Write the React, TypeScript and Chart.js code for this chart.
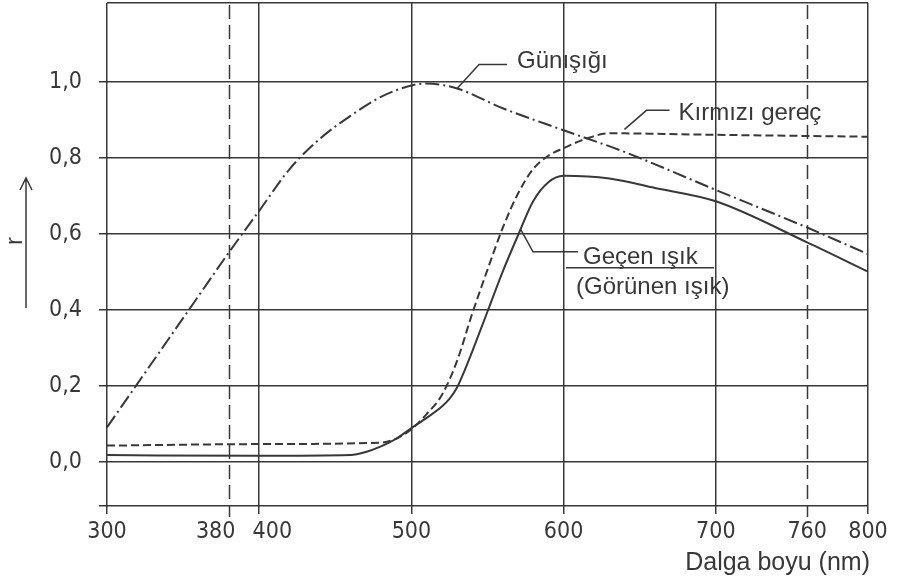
import React, { useEffect, useRef } from 'react';
import { Chart, registerables } from 'chart.js';

Chart.register(...registerables);

// ---- data ----
const sunX = [300, 320, 340, 360, 380, 400, 420, 440, 460, 480, 500, 510, 530, 560, 600, 640, 700, 760, 800];
const sunY = [0.09, 0.205, 0.32, 0.435, 0.55, 0.66, 0.77, 0.85, 0.91, 0.96, 0.99, 0.995, 0.982, 0.93, 0.872, 0.815, 0.715, 0.616, 0.546];

const redX = [300, 400, 480, 490, 500, 510, 520, 530, 540, 550, 560, 570, 580, 590, 600, 615, 630, 700, 760, 800];
const redY = [0.042, 0.046, 0.05, 0.06, 0.085, 0.125, 0.175, 0.265, 0.39, 0.505, 0.615, 0.705, 0.77, 0.805, 0.825, 0.85, 0.864, 0.86, 0.857, 0.855];

const lightX = [300, 400, 460, 470, 480, 490, 500, 510, 520, 525, 530, 535, 540, 550, 560, 570, 580, 590, 600, 630, 660, 700, 760, 800];
const lightY = [0.017, 0.015, 0.017, 0.025, 0.04, 0.06, 0.088, 0.115, 0.145, 0.165, 0.195, 0.24, 0.29, 0.395, 0.5, 0.595, 0.685, 0.735, 0.752, 0.745, 0.72, 0.685, 0.577, 0.5];

const seriesNames = ['Günışığı', 'Kırmızı gereç', 'Geçen ışık'];
const lightSubLabel = '(Görünen ışık)';

const xTicks = [300, 380, 400, 500, 600, 700, 760, 800];
const visibleLimits = [380, 760];
const yTicks = [0, 0.2, 0.4, 0.6, 0.8, 1.0];
const xMin = 300;
const xMax = 800;
const yMin = -0.117;
const yMax = 1.207;
const xTitle = 'Dalga boyu (nm)';
const yTitle = 'r';

// ---- styles ----
const INK = '#383838';
const TICK_FONT = "'Liberation Sans Narrow', 'DejaVu Sans Condensed', 'Liberation Sans', sans-serif";
const TEXT_FONT = "'Liberation Sans', Arial, sans-serif";

const callouts = [
  { lines: [seriesNames[0]], ax: 530, ay: 0.982, path: [[0, 0], [22, -24], [50, -24]], tx: 60, ty: [-20], bar: null as null | number[] },
  { lines: [seriesNames[1]], ax: 640, ay: 0.864, path: [[0, -4], [22, -23], [45, -23]], tx: 54, ty: [-13], bar: null as null | number[] },
  { lines: [seriesNames[2], lightSubLabel], ax: 572, ay: 0.61, path: [[0, 0], [12, 22], [57, 22]], tx: 62, ty: [34, 64], bar: [45, 193, 38] },
];

const annotPlugin = {
  id: 'annot',
  beforeDatasetsDraw(chart: any) {
    const { ctx, chartArea, scales } = chart;
    const x = scales.x;
    ctx.save();
    ctx.strokeStyle = INK;
    ctx.lineWidth = 1.5;
    ctx.setLineDash([14, 6]);
    visibleLimits.forEach((v) => {
      const px = Math.round(x.getPixelForValue(v)) + 0.5;
      ctx.beginPath();
      ctx.moveTo(px, chartArea.top + 2);
      ctx.lineTo(px, chartArea.bottom + 11);
      ctx.stroke();
    });
    ctx.restore();
  },
  afterDraw(chart: any) {
    const { ctx, chartArea, scales } = chart;
    const x = scales.x;
    const y = scales.y;
    ctx.save();
    ctx.strokeStyle = INK;
    ctx.fillStyle = INK;
    ctx.lineWidth = 1.5;
    ctx.setLineDash([]);
    callouts.forEach((c) => {
      const ax = x.getPixelForValue(c.ax);
      const ay = y.getPixelForValue(c.ay);
      ctx.beginPath();
      c.path.forEach(([dx, dy], i) => {
        if (i === 0) ctx.moveTo(ax + dx, ay + dy);
        else ctx.lineTo(ax + dx, ay + dy);
      });
      ctx.stroke();
      ctx.font = `24px ${TEXT_FONT}`;
      ctx.textAlign = 'left';
      ctx.textBaseline = 'alphabetic';
      c.lines.forEach((t, i) => {
        ctx.fillText(t, ax + c.tx - (i === 1 ? 7 : 0), ay + c.ty[i]);
      });
      if (c.bar) {
        ctx.beginPath();
        ctx.moveTo(ax + c.bar[0], ay + c.bar[2]);
        ctx.lineTo(ax + c.bar[1], ay + c.bar[2]);
        ctx.stroke();
      }
    });
    // x title
    ctx.font = `25px ${TEXT_FONT}`;
    ctx.textAlign = 'right';
    ctx.textBaseline = 'alphabetic';
    ctx.fillText(xTitle, chartArea.right + 2, 570);
    // y title with arrow
    ctx.beginPath();
    ctx.moveTo(26, 308);
    ctx.lineTo(26, 178);
    ctx.moveTo(20, 190);
    ctx.lineTo(26, 178);
    ctx.lineTo(32, 190);
    ctx.stroke();
    ctx.save();
    ctx.translate(15, 241);
    ctx.rotate(-Math.PI / 2);
    ctx.font = `24px ${TEXT_FONT}`;
    ctx.textAlign = 'center';
    ctx.textBaseline = 'middle';
    ctx.fillText(yTitle, 0, 0);
    ctx.restore();
    ctx.restore();
  },
};

function pts(xs: number[], ys: number[]) {
  return xs.map((v, i) => ({ x: v, y: ys[i] }));
}

export default function App() {
  const ref = useRef<HTMLCanvasElement>(null);
  useEffect(() => {
    if (!ref.current) return;
    const common = {
      borderColor: INK,
      borderWidth: 2,
      pointRadius: 0,
      fill: false,
      cubicInterpolationMode: 'monotone' as const,
    };
    const chart = new Chart(ref.current, {
      type: 'line',
      data: {
        datasets: [
          { ...common, label: seriesNames[0], data: pts(sunX, sunY), borderDash: [14, 4, 2, 4] },
          { ...common, label: seriesNames[1], data: pts(redX, redY), borderDash: [8, 4] },
          { ...common, label: seriesNames[2], data: pts(lightX, lightY) },
        ],
      },
      options: {
        animation: false,
        responsive: false,
        layout: { padding: { left: 0, right: 32, top: 3, bottom: 0 } },
        plugins: { legend: { display: false }, tooltip: { enabled: false } },
        scales: {
          x: {
            type: 'linear',
            min: xMin,
            max: xMax,
            afterBuildTicks: (s: any) => {
              s.ticks = xTicks.map((v) => ({ value: v }));
            },
            afterFit: (s: any) => {
              s.height = 76;
              s.paddingLeft = 0;
              s.paddingRight = 0;
            },
            border: { display: false },
            grid: {
              color: (c: any) => (visibleLimits.includes(c.tick?.value) ? 'rgba(0,0,0,0)' : INK),
              tickColor: (c: any) => (visibleLimits.includes(c.tick?.value) ? 'rgba(0,0,0,0)' : INK),
              lineWidth: 1.5,
              tickLength: 8,
              tickWidth: 1.5,
            },
            ticks: {
              autoSkip: false,
              maxRotation: 0,
              padding: 4,
              color: INK,
              font: { family: TICK_FONT, size: 23 },
              callback: (v: any) => {
                if (v === 380) return '380    ';
                if (v === 400) return '    400';
                return String(v);
              },
            },
          },
          y: {
            type: 'linear',
            min: yMin,
            max: yMax,
            afterBuildTicks: (s: any) => {
              s.ticks = [yMin, ...yTicks, yMax].map((v) => ({ value: v }));
            },
            afterFit: (s: any) => {
              s.width = 107;
              s.paddingTop = 0;
              s.paddingBottom = 0;
            },
            border: { display: false },
            grid: {
              color: INK,
              tickColor: (c: any) => (c.tick?.value === yMax ? 'rgba(0,0,0,0)' : INK),
              lineWidth: 1.5,
              tickLength: 8,
              tickWidth: 1.5,
            },
            ticks: {
              autoSkip: false,
              padding: 17,
              color: INK,
              font: { family: TICK_FONT, size: 23 },
              callback: (v: any) => (yTicks.includes(v) ? v.toFixed(1).replace('.', ',') : ''),
            },
          },
        },
      },
      plugins: [annotPlugin],
    });
    return () => chart.destroy();
  }, []);
  return (
    <div style={{ position: 'absolute', left: 0, top: 0, width: 900, height: 582, background: '#fff' }}>
      <canvas ref={ref} width={900} height={582} style={{ display: 'block' }} />
    </div>
  );
}
